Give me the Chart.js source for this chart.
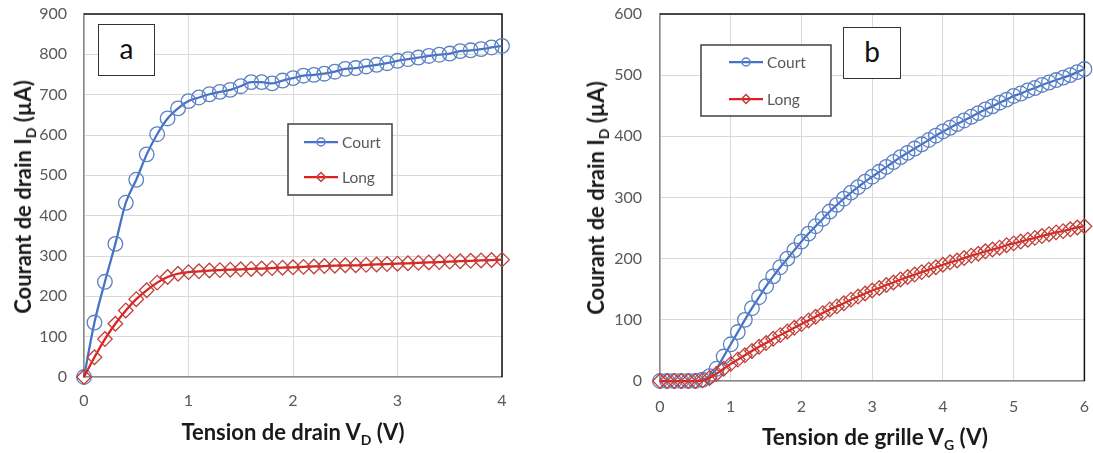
<!DOCTYPE html>
<html><head><meta charset="utf-8">
<script src="https://cdn.jsdelivr.net/npm/chart.js@4/dist/chart.umd.min.js"></script>
<style>
html,body{margin:0;padding:0;background:#fff;width:1093px;height:453px;overflow:hidden;font-family:Lato,"Open Sans",sans-serif;}
.wrap{position:absolute;top:0;height:453px;}
#wa{left:0;width:530px;}
#wb{left:540px;width:553px;}
.title{position:absolute;font-weight:bold;font-size:22px;color:#1a1a1a;white-space:nowrap;transform:translate(-50%,-50%);line-height:1;}
.ytitle{transform:translate(-50%,-50%) rotate(-90deg);}
.title sub{font-size:14px;vertical-align:-5px;line-height:0;}
.tag{position:absolute;border:1.5px solid #333;background:#fff;font-size:28px;display:flex;align-items:center;justify-content:center;box-sizing:border-box;color:#111;padding-bottom:4px;}
</style></head>
<body>
<div class="wrap" id="wa"><canvas id="ca"></canvas></div>
<div class="wrap" id="wb"><canvas id="cb"></canvas></div>
<div class="title ytitle" style="left:23px;top:197px;">Courant de drain I<sub>D</sub> (µA)</div>
<div class="title" style="left:293px;top:432px;">Tension de drain V<sub>D</sub> (V)</div>
<div class="title ytitle" style="left:596px;top:198px;">Courant de drain I<sub>D</sub> (µA)</div>
<div class="title" style="left:875px;top:437px;font-size:22.5px;">Tension de grille V<sub>G</sub> (V)</div>
<div class="tag" style="left:98px;top:24px;width:57px;height:52px;">a</div>
<div class="tag" style="left:843px;top:27px;width:58px;height:52px;">b</div>
<script>
// ---- Data ----
const seriesNames = ['Court', 'Long'];
const vD = [0,0.1,0.2,0.3,0.4,0.5,0.6,0.7,0.8,0.9,1.0,1.1,1.2,1.3,1.4,1.5,1.6,1.7,1.8,1.9,2.0,2.1,2.2,2.3,2.4,2.5,2.6,2.7,2.8,2.9,3.0,3.1,3.2,3.3,3.4,3.5,3.6,3.7,3.8,3.9,4.0];
const courtA = [0,135,236,330,432,489,552,602,641,666,684,693,701,707,712,721,731,731,728,735,741,747,749,752,757,764,766,770,774,778,784,788,792,796,799,802,808,810,813,817,821];
const longA = [0,49,94,132,165,193,215,234,248,256,260,262,264,265,266,267,268,269,270,271,272,273,274,275,276,277,277,278,279,280,281,282,283,284,285,286,287,288,289,290,291];
const vG = [0,0.1,0.2,0.3,0.4,0.5,0.6,0.7,0.8,0.9,1.0,1.1,1.2,1.3,1.4,1.5,1.6,1.7,1.8,1.9,2.0,2.1,2.2,2.3,2.4,2.5,2.6,2.7,2.8,2.9,3.0,3.1,3.2,3.3,3.4,3.5,3.6,3.7,3.8,3.9,4.0,4.1,4.2,4.3,4.4,4.5,4.6,4.7,4.8,4.9,5.0,5.1,5.2,5.3,5.4,5.5,5.6,5.7,5.8,5.9,6.0];
const courtB = [0,0,0,0,0,0,2,8,20,40,60,80,100,119,137,155,171,186,200,214,228,241,253,265,277,288,298,308,317,326,334,342,350,358,366,373,380,387,394,401,408,414,420,426,432,438,444,449,455,460,466,470,475,479,484,488,492,496,500,505,510];
const longB = [0,0,0,0,0,0,1,5,12,20,28,35,42,49,56,62,69,75,81,87,93,99,105,111,117,122,127,133,138,143,148,152,157,161,166,170,174,178,182,186,190,194,197,201,205,208,212,215,218,222,225,228,231,234,237,240,243,245,248,251,253];
const xTicksA = [0,1,2,3,4];
const yTicksA = [0,100,200,300,400,500,600,700,800,900];
const xTicksB = [0,1,2,3,4,5,6];
const yTicksB = [0,100,200,300,400,500,600];

const BLUE = '#4472C4', BLUE_PT = '#5B80C4', RED = '#E0201E', RED_PT = '#C0403A';
const FONT = 'Lato, "Open Sans", sans-serif';

const frame = {
  id: 'frame',
  beforeDatasetsDraw(chart) {
    const a = chart.chartArea, ctx = chart.ctx;
    ctx.save();
    ctx.strokeStyle = '#111'; ctx.lineWidth = 1.5;
    ctx.beginPath();
    ctx.moveTo(a.left, a.top); ctx.lineTo(a.right, a.top); ctx.lineTo(a.right, a.bottom);
    ctx.stroke();
    ctx.restore();
  }
};

const insetLegend = {
  id: 'insetLegend',
  afterDraw(chart, args, o) {
    const ctx = chart.ctx;
    ctx.save();
    ctx.fillStyle = '#fff';
    ctx.fillRect(o.x, o.y, o.w, o.h);
    ctx.strokeStyle = '#404040'; ctx.lineWidth = 1.5;
    ctx.strokeRect(o.x, o.y, o.w, o.h);
    ctx.font = '15.5px ' + FONT;
    ctx.textBaseline = 'middle';
    chart.data.datasets.forEach((ds, i) => {
      const cy = o.rows[i];
      ctx.strokeStyle = ds.borderColor; ctx.lineWidth = 2.25;
      ctx.beginPath(); ctx.moveTo(o.l0, cy); ctx.lineTo(o.l1, cy); ctx.stroke();
      const mx = (o.l0 + o.l1) / 2;
      ctx.strokeStyle = ds.pointBorderColor; ctx.lineWidth = 1.5;
      ctx.beginPath();
      if (ds.pointStyle === 'circle') ctx.arc(mx, cy, 4, 0, Math.PI * 2);
      else { ctx.moveTo(mx - 4.5, cy); ctx.lineTo(mx, cy - 4.5); ctx.lineTo(mx + 4.5, cy); ctx.lineTo(mx, cy + 4.5); ctx.closePath(); }
      ctx.stroke();
      ctx.fillStyle = '#595959';
      ctx.fillText(ds.label, o.tx, cy + 1);
    });
    ctx.restore();
  }
};

function makeDatasets(xs, court, long) {
  return [
    { label: seriesNames[0], data: xs.map((x, i) => ({x, y: court[i]})), borderColor: BLUE, borderWidth: 2.25,
      pointStyle: 'circle', pointRadius: 7.3, pointBorderColor: BLUE_PT, pointBorderWidth: 1.3,
      pointBackgroundColor: 'rgba(255,255,255,0)', cubicInterpolationMode: 'monotone', clip: false, order: 2 },
    { label: seriesNames[1], data: xs.map((x, i) => ({x, y: long[i]})), borderColor: RED, borderWidth: 2.25,
      pointStyle: 'rectRot', pointRadius: 7.3, pointBorderColor: RED_PT, pointBorderWidth: 1.3,
      pointBackgroundColor: 'rgba(255,255,255,0)', cubicInterpolationMode: 'monotone', clip: false, order: 1 }
  ];
}

function makeChart(id, xs, court, long, xt, yt, geo, legendOpts) {
  return new Chart(document.getElementById(id), {
    type: 'line',
    data: { datasets: makeDatasets(xs, court, long) },
    plugins: [frame, insetLegend],
    options: {
      responsive: true, maintainAspectRatio: false, animation: false,
      layout: { padding: { left: 0, right: geo.right, top: 0, bottom: 0 } },
      plugins: { legend: { display: false }, tooltip: { enabled: false }, insetLegend: legendOpts },
      scales: {
        x: {
          type: 'linear', min: xt[0], max: xt[xt.length - 1],
          afterBuildTicks: s => { s.ticks = xt.map(v => ({value: v})); },
          afterFit: s => { s.height = geo.xh; s.paddingLeft = 0; s.paddingRight = 0; },
          grid: { color: '#d9d9d9', lineWidth: 1, drawTicks: false },
          border: { color: '#8a8a8a', width: 1.5 },
          ticks: { padding: geo.xpad, color: '#595959', font: { family: FONT, size: 16 }, maxRotation: 0 }
        },
        y: {
          min: yt[0], max: yt[yt.length - 1],
          afterBuildTicks: s => { s.ticks = yt.map(v => ({value: v})); },
          afterFit: s => { s.width = geo.yw; s.paddingTop = geo.top; s.paddingBottom = 0; },
          grid: { color: '#d9d9d9', lineWidth: 1, drawTicks: false },
          border: { color: '#8a8a8a', width: 1.5 },
          ticks: { padding: geo.ypad, color: '#595959', font: { family: FONT, size: 16 } }
        }
      }
    }
  });
}

makeChart('ca', vD, courtA, longA, xTicksA, yTicksA,
  { right: 28, top: 14, xh: 76, yw: 84, xpad: 14, ypad: 17 },
  { x: 288, y: 124, w: 104, h: 71, l0: 304, l1: 338, tx: 342, rows: [142, 177] });
makeChart('cb', vG, courtB, longB, xTicksB, yTicksB,
  { right: 5, top: 14, xh: 72, yw: 120, xpad: 16, ypad: 18 },
  { x: 161, y: 45, w: 130, h: 71, l0: 189, l1: 223, tx: 227, rows: [62, 99] });
</script>
</body></html>
